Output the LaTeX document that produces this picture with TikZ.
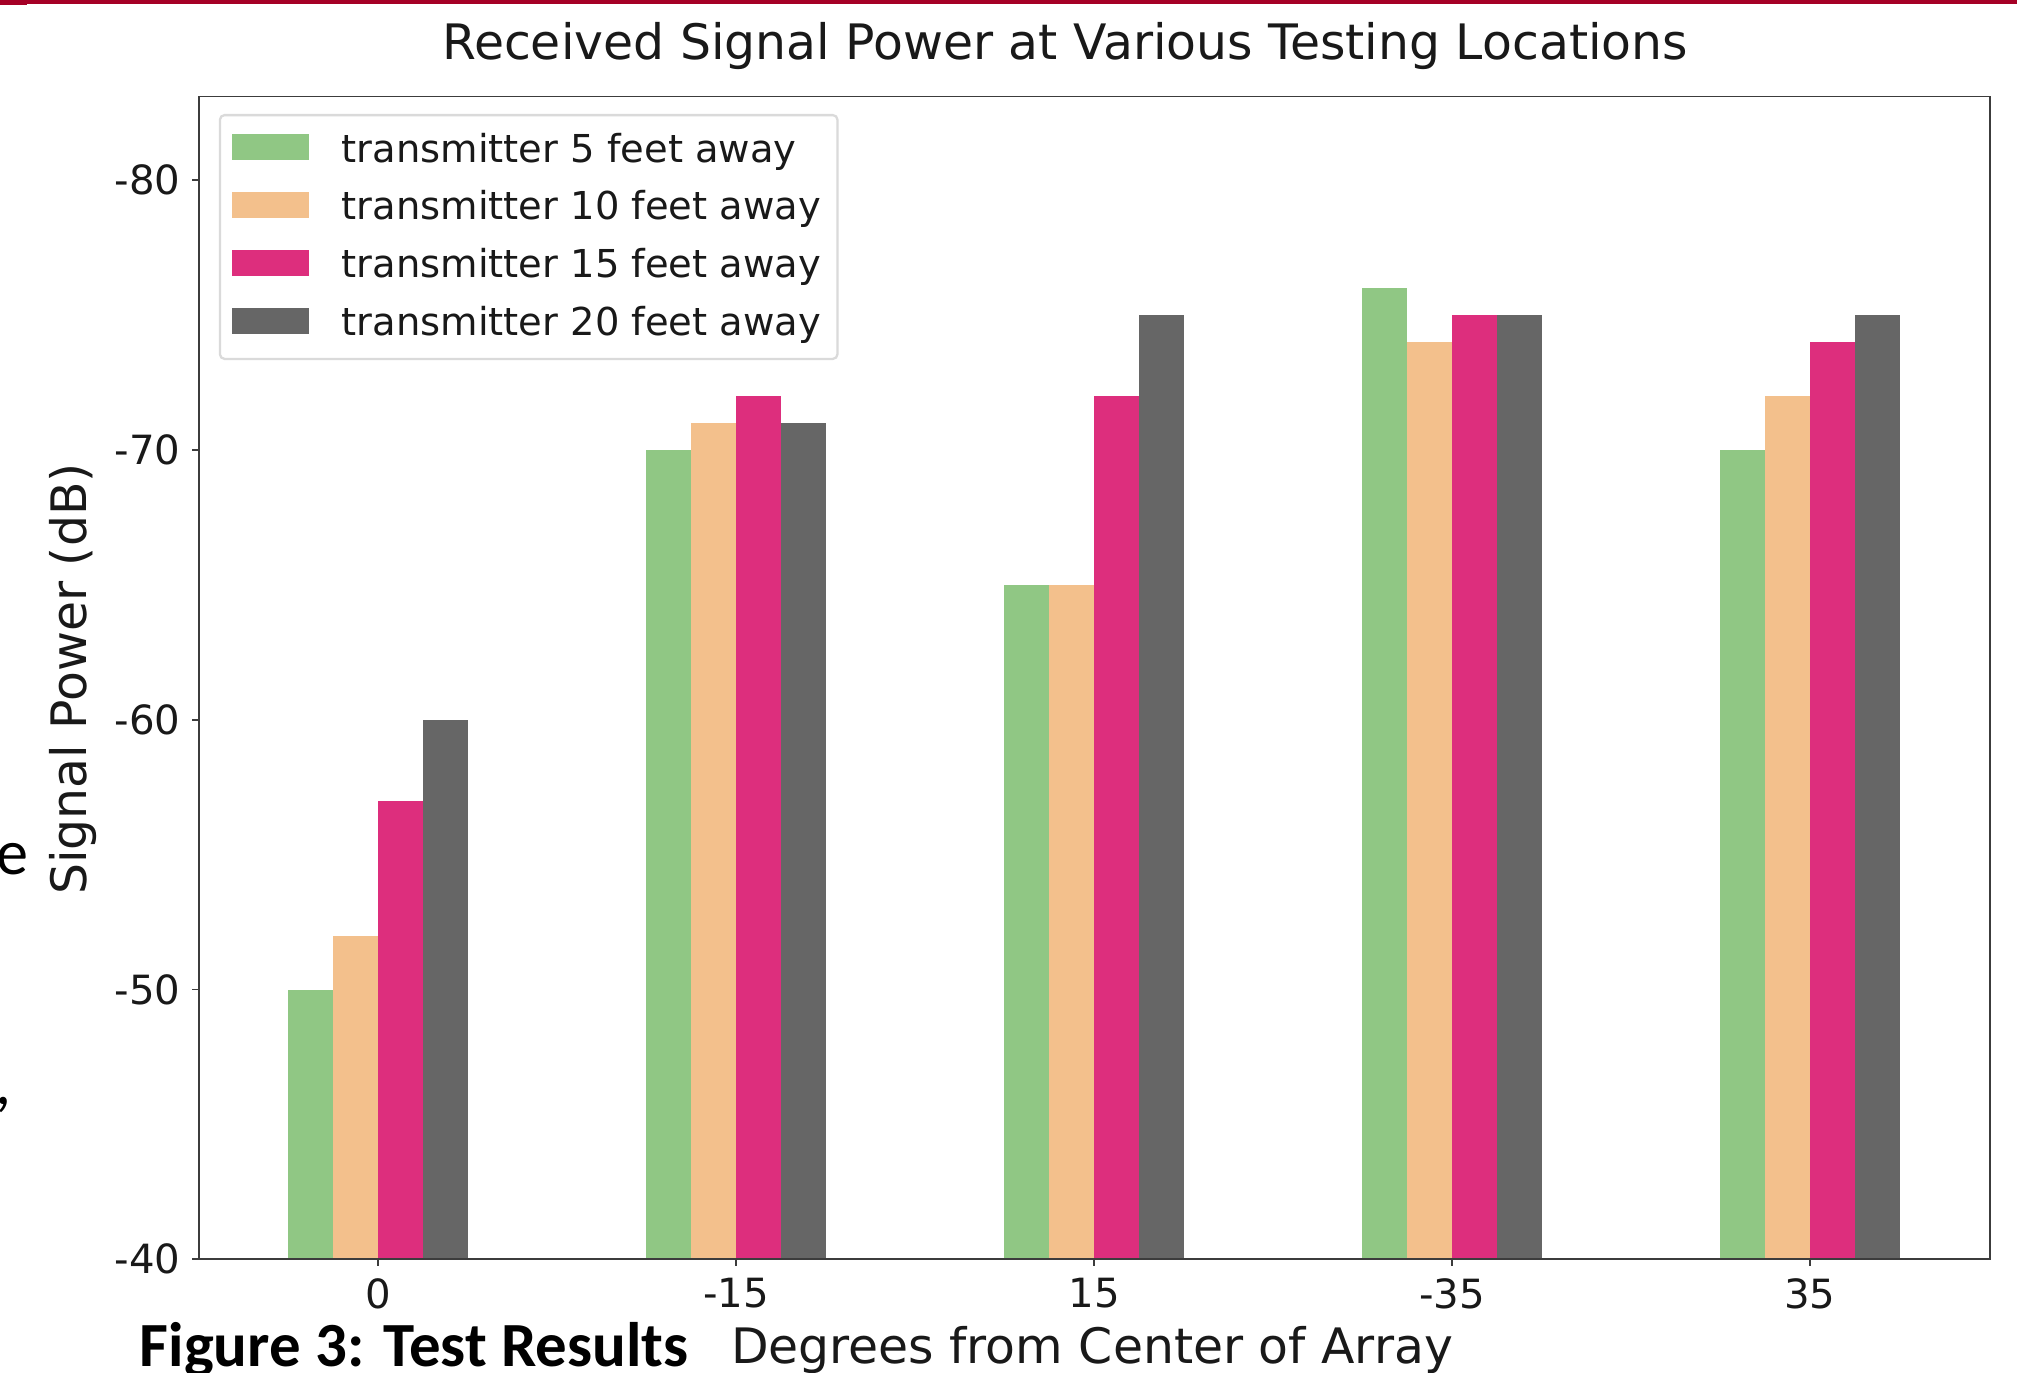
\documentclass[tikz,border=0pt]{standalone}
\usepackage{fontspec}
\newfontfamily\plotfont{DejaVu Sans}
\newfontfamily\notefont{Carlito}

\definecolor{barA}{RGB}{144,199,132}
\definecolor{barB}{RGB}{243,192,140}
\definecolor{barC}{RGB}{221,46,125}
\definecolor{barD}{RGB}{102,102,102}
\definecolor{rule}{RGB}{165,0,38}
\definecolor{frame}{RGB}{60,60,60}
\definecolor{legframe}{RGB}{218,218,218}

% pixel-like units, y pointing down
\tikzset{
  ticklab/.style={font=\plotfont\fontsize{8.9}{10}\selectfont, inner sep=0pt, text=black!90},
  axlab/.style={font=\plotfont\fontsize{10.8}{12}\selectfont, inner sep=0pt, text=black!90},
  leglab/.style={font=\plotfont\fontsize{8.5}{10}\selectfont, inner sep=0pt, anchor=base west, text=black!90},
  capfont/.style={font=\notefont\bfseries\fontsize{13.9}{16}\selectfont, inner sep=0pt},
  sidefont/.style={font=\notefont\fontsize{14.2}{17}\selectfont, inner sep=0pt},
  axisline/.style={draw=frame, line width=0.4pt},
  tickmark/.style={draw=frame, line width=0.4pt},
}

\newcommand\ypos[1]{979+20.975*((#1)+40)}

\begin{document}
\begin{tikzpicture}[x=0.01cm, y=-0.01cm]
\useasboundingbox (0,0) rectangle (1568,1067);
\fill[white] (0,0) rectangle (1568,1067);

% header rule
\fill[rule] (0,0) rectangle (1568,3.2);
\fill[rule] (0,0) rectangle (21,4);

% side text fragments
\node[sidefont, anchor=base east] (frage) at (23,680) {e};
\node[sidefont, anchor=base east] (fragc) at (10,859) {,};

% title
\node[axlab, anchor=base] (title) at (828,46) {Received Signal Power at Various Testing Locations};

% bars
\foreach \i/\a/\b/\c/\d in {0/-50/-52/-57/-60, 1/-70/-71/-72/-71, 2/-65/-65/-72/-75, 3/-76/-74/-75/-75, 4/-70/-72/-74/-75}{
  \pgfmathsetmacro\cx{294+278.25*\i}
  \fill[barA] ({\cx-70},979) rectangle ({\cx-35},{\ypos{\a}});
  \fill[barB] ({\cx-35},979) rectangle ({\cx},{\ypos{\b}});
  \fill[barC] ({\cx},979) rectangle ({\cx+35},{\ypos{\c}});
  \fill[barD] ({\cx+35},979) rectangle ({\cx+70},{\ypos{\d}});
}

% axes frame
\draw[axisline] (155,75) rectangle (1547,979);

% y ticks
\foreach \v in {-80,-70,-60,-50,-40}{
  \draw[tickmark] (155,{\ypos{\v}}) -- (149.5,{\ypos{\v}});
  \node[ticklab, anchor=east] (yt\v) at (141,{\ypos{\v}}) {\v};
}

% x ticks
\foreach \i/\lab in {0/0, 1/-15, 2/15, 3/-35, 4/35}{
  \pgfmathsetmacro\cx{294+278.25*\i}
  \draw[tickmark] (\cx,979) -- (\cx,984.5);
  \node[ticklab, anchor=north] (xt\i) at (\cx,993) {\lab};
}

% axis labels
\node[axlab, rotate=90] (ylab) at (57,528) {Signal Power (dB)};
\node[axlab, anchor=base] (xlab) at (849,1060) {Degrees from Center of Array};

% caption
\node[capfont, anchor=base west] (fig) at (108,1062) {Figure 3: Test Results};

% legend
\draw[draw=legframe, fill=white, line width=0.5pt, rounded corners=1pt] (171,89.5) rectangle (651,279);
\foreach \k/\col/\txt in {0/barA/5, 1/barB/10, 2/barC/15, 3/barD/20}{
  \pgfmathsetmacro\ry{114.5+45*\k}
  \fill[\col] (180.5,{\ry-10}) rectangle (240,{\ry+10});
  \node[leglab] (leg\k) at (265,{\ry+11.5}) {transmitter \txt\ feet away};
}
\end{tikzpicture}
\end{document}
